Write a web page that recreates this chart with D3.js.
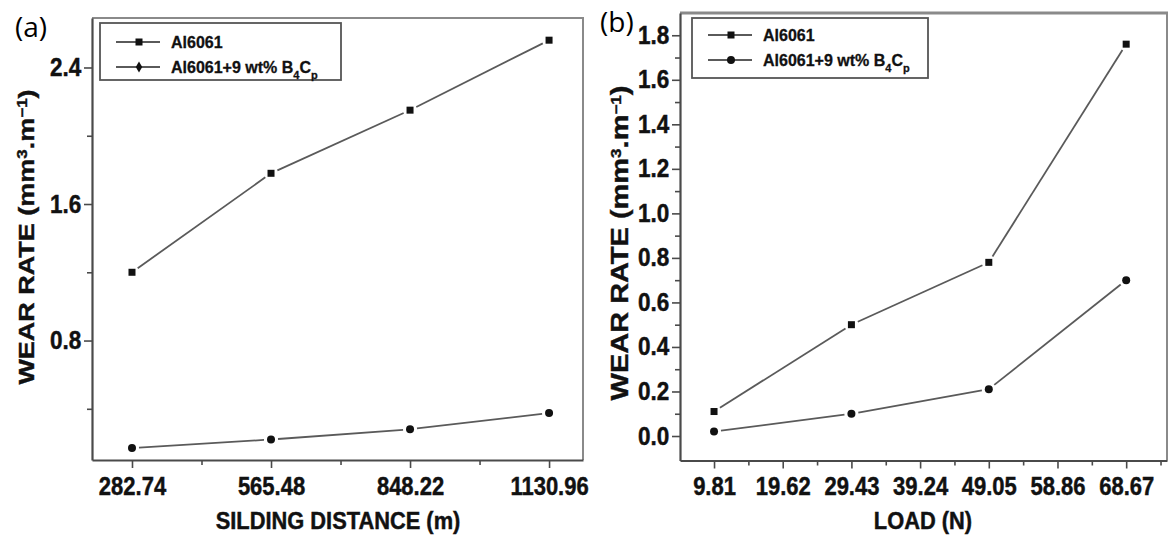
<!DOCTYPE html>
<html>
<head>
<meta charset="utf-8">
<script src="https://cdn.jsdelivr.net/npm/d3@7"></script>
<style>
  body { margin: 0; background: #fff; }
  svg { display: block; }
</style>
</head>
<body>
<svg width="1168" height="541"></svg>
<script>
// ---- data (a) wear rate vs sliding distance
var distance = [282.74, 565.48, 848.22, 1130.96];
var wearDistAl = [1.2, 1.78, 2.15, 2.56];
var wearDistB4C = [0.17, 0.22, 0.28, 0.375];
var distTicks = [282.74, 565.48, 848.22, 1130.96];
var distMinor = [424.11, 706.85, 989.59];
var rateTicksA = [0.8, 1.6, 2.4];
var rateMinorA = [0.4, 1.2, 2.0];

// ---- data (b) wear rate vs load
var load = [9.81, 29.43, 49.05, 68.67];
var wearLoadAl = [0.11, 0.5, 0.78, 1.76];
var wearLoadB4C = [0.02, 0.1, 0.21, 0.7];
var loadTicks = [9.81, 19.62, 29.43, 39.24, 49.05, 58.86, 68.67];
var loadMinor = [14.715, 24.525, 34.335, 44.145, 53.955, 63.765, 73.575];
var rateTicksB = [0.0, 0.2, 0.4, 0.6, 0.8, 1.0, 1.2, 1.4, 1.6, 1.8];
var rateMinorB = [0.1, 0.3, 0.5, 0.7, 0.9, 1.1, 1.3, 1.5, 1.7];

var seriesNames = ["Al6061", "Al6061+9 wt% B"];

var svg = d3.select("svg");
var FONT = "'Liberation Sans', Arial, sans-serif";
var DARK = "#4a4a4a";

function heavy(sel) {
    // scanned-looking heavy black text
    sel.attr("font-family", FONT).attr("font-weight", "bold").attr("fill", "#111")
        .attr("stroke", "#111").attr("stroke-width", 0.45);
}

function drawPanel(p) {
    var x = d3.scaleLinear().domain(p.xDomain).range([p.left, p.right]);
    var y = d3.scaleLinear().domain(p.yDomain).range([p.bottom, p.top]);
    var g = svg.append("g");

    // frame: top/right lighter than the axis lines
    g.append("line").attr("x1", p.left).attr("x2", p.right + 1).attr("y1", p.top).attr("y2", p.top)
        .attr("stroke", "#8a8a8a").attr("stroke-width", p.topWidth);
    g.append("line").attr("x1", p.right).attr("x2", p.right).attr("y1", p.top).attr("y2", p.bottom)
        .attr("stroke", "#8a8a8a").attr("stroke-width", 2);

    // minor ticks
    g.append("g")
        .attr("transform", "translate(0," + p.bottom + ")")
        .call(d3.axisBottom(x).tickValues(p.xMinor).tickSize(5).tickFormat(""))
        .call(function (a) { a.select(".domain").remove(); a.selectAll("line").attr("stroke", DARK).attr("stroke-width", 1.6); });
    g.append("g")
        .attr("transform", "translate(" + p.left + ",0)")
        .call(d3.axisLeft(y).tickValues(p.yMinor).tickSize(5).tickFormat(""))
        .call(function (a) { a.select(".domain").remove(); a.selectAll("line").attr("stroke", DARK).attr("stroke-width", 1.6); });

    // major ticks + labels
    var xa = g.append("g")
        .attr("transform", "translate(0," + p.bottom + ")")
        .call(d3.axisBottom(x).tickValues(p.xTicks).tickSize(8).tickPadding(9).tickSizeOuter(0)
            .tickFormat(function (d) { return d.toFixed(2); }));
    xa.select(".domain").attr("stroke", DARK).attr("stroke-width", 2.2);
    xa.selectAll("line").attr("stroke", DARK).attr("stroke-width", 1.6);
    xa.selectAll("text").call(heavy).attr("font-size", "25px").attr("transform", "scale(0.88,1)");

    var ya = g.append("g")
        .attr("transform", "translate(" + p.left + ",0)")
        .call(d3.axisLeft(y).tickValues(p.yTicks).tickSize(8).tickPadding(4).tickSizeOuter(0)
            .tickFormat(d3.format(".1f")));
    ya.select(".domain").attr("stroke", DARK).attr("stroke-width", 2.2);
    ya.selectAll("line").attr("stroke", DARK).attr("stroke-width", 1.6);
    ya.selectAll("text").call(heavy).attr("font-size", "25px").attr("transform", "scale(0.9,1)");

    // axis titles
    g.append("text")
        .attr("transform", "translate(" + p.xTitleX + ",529) scale(0.95,1)")
        .attr("text-anchor", "middle")
        .call(heavy).attr("font-size", "23px")
        .text(p.xTitle);

    var yt = g.append("text")
        .attr("transform", "translate(" + p.yTitleX + "," + p.yTitleY + ") scale(0.84,1) rotate(-90)")
        .attr("text-anchor", "middle")
        .call(heavy).attr("font-size", p.yTitleSize + "px");
    yt.append("tspan").text("WEAR RATE (mm");
    yt.append("tspan").attr("baseline-shift", "super").attr("font-size", "17px").text("3");
    yt.append("tspan").text(".m");
    yt.append("tspan").attr("baseline-shift", "super").attr("font-size", "17px").text("\u22121");
    yt.append("tspan").text(")");

    // lines with a little gap at every marker
    function drawLine(xs, ys) {
        var pts = xs.map(function (d, i) { return [x(d), y(ys[i])]; });
        for (var i = 0; i < pts.length - 1; i++) {
            var a = pts[i], b = pts[i + 1];
            var dx = b[0] - a[0], dy = b[1] - a[1], len = Math.sqrt(dx * dx + dy * dy);
            var gap = 7;
            g.append("line")
                .attr("x1", a[0] + dx / len * gap).attr("y1", a[1] + dy / len * gap)
                .attr("x2", b[0] - dx / len * gap).attr("y2", b[1] - dy / len * gap)
                .attr("stroke", "#5a5a5a").attr("stroke-width", 1.8);
        }
    }
    drawLine(p.xs, p.al);
    drawLine(p.xs, p.b4c);

    g.selectAll(".sq").data(p.xs).enter().append("rect")
        .attr("x", function (d) { return x(d) - 3.5; })
        .attr("y", function (d, i) { return y(p.al[i]) - 3.5; })
        .attr("width", 7).attr("height", 7)
        .attr("fill", "#111");
    g.selectAll(".dot").data(p.xs).enter().append("circle")
        .attr("cx", function (d) { return x(d); })
        .attr("cy", function (d, i) { return y(p.b4c[i]); })
        .attr("r", 4)
        .attr("fill", "#111");

    // legend
    var L = p.legend;
    g.append("rect").attr("x", L.x).attr("y", L.y).attr("width", L.w).attr("height", L.h)
        .attr("fill", "#fff").attr("stroke", "#555").attr("stroke-width", 1.8);
    seriesNames.forEach(function (name, i) {
        var ry = L.y + L.row0 + i * L.rowGap;
        g.append("line").attr("x1", L.x + 16).attr("x2", L.x + 60).attr("y1", ry).attr("y2", ry)
            .attr("stroke", "#5a5a5a").attr("stroke-width", 1.8);
        var mx = L.x + 39;
        if (i === 0) {
            g.append("rect").attr("x", mx - 3.5).attr("y", ry - 3.5).attr("width", 7).attr("height", 7).attr("fill", "#111");
        } else {
            g.append("path")
                .attr("d", d3.symbol().type(L.diamond ? d3.symbolDiamond : d3.symbolCircle).size(L.diamond ? 36 : 50))
                .attr("transform", "translate(" + mx + "," + ry + ")")
                .attr("fill", "#111");
        }
        var t = g.append("text")
            .attr("x", L.x + 71).attr("y", ry + 6)
            .call(heavy).attr("stroke-width", 0.3).attr("font-size", "16px")
            .text(name);
        if (i === 1) {
            t.append("tspan").attr("baseline-shift", "sub").attr("font-size", "11px").text("4");
            t.append("tspan").text("C");
            t.append("tspan").attr("baseline-shift", "sub").attr("font-size", "11px").text("p");
        }
    });

    svg.append("text").attr("x", p.tagX).attr("y", p.tagY)
        .attr("font-family", "'Open Sans', sans-serif").attr("font-size", "28px").attr("fill", "#000")
        .text(p.tag);
}

drawPanel({
    left: 92, right: 583, top: 18, bottom: 460, topWidth: 2,
    xDomain: [201.4, 1200], yDomain: [0.1, 2.69],
    xTicks: distTicks, xMinor: distMinor, yTicks: rateTicksA, yMinor: rateMinorA,
    xs: distance, al: wearDistAl, b4c: wearDistB4C,
    xTitle: "SILDING DISTANCE (m)", xTitleX: 338,
    yTitleX: 34, yTitleY: 237, yTitleSize: 27,
    legend: { x: 100, y: 23, w: 241, h: 57, row0: 19, rowGap: 25, diamond: true },
    tag: "(a)", tagX: 15, tagY: 37
});

drawPanel({
    left: 680, right: 1167, top: 13, bottom: 460.5, topWidth: 3,
    xDomain: [4.95, 74.5], yDomain: [-0.11, 1.9],
    xTicks: loadTicks, xMinor: loadMinor, yTicks: rateTicksB, yMinor: rateMinorB,
    xs: load, al: wearLoadAl, b4c: wearLoadB4C,
    xTitle: "LOAD (N)", xTitleX: 923,
    yTitleX: 628, yTitleY: 243, yTitleSize: 29,
    legend: { x: 692, y: 18, w: 236, h: 60, row0: 17, rowGap: 25, diamond: false },
    tag: "(b)", tagX: 600, tagY: 32
});
</script>
</body>
</html>
